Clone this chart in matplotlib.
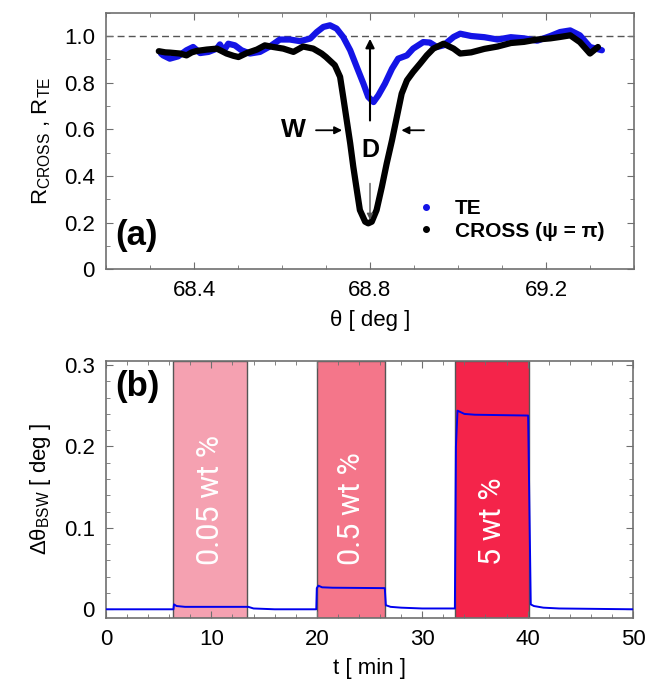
import matplotlib
matplotlib.use("Agg")
import matplotlib.pyplot as plt
from matplotlib.lines import Line2D
from matplotlib.ticker import MultipleLocator, FixedLocator

plt.rcParams['font.family'] = ['Liberation Sans', 'DejaVu Sans']
plt.rcParams['mathtext.fontset'] = 'custom'
plt.rcParams['mathtext.rm'] = 'Liberation Sans'
plt.rcParams['mathtext.it'] = 'Liberation Sans:italic'
plt.rcParams['mathtext.bf'] = 'Liberation Sans:bold'

# (a) reflectance dips vs incidence angle
theta_cross = [68.32, 68.335, 68.345, 68.368, 68.383, 68.395, 68.406, 68.429, 68.452,
               68.474, 68.49, 68.501, 68.52, 68.543, 68.561, 68.58, 68.603, 68.626,
               68.648, 68.671, 68.69, 68.70, 68.72, 68.732, 68.739, 68.747, 68.755,
               68.762, 68.77, 68.777, 68.789, 68.796, 68.804, 68.815, 68.827, 68.838,
               68.85, 68.861, 68.872, 68.884, 68.898, 68.914, 68.929, 68.944, 68.967,
               68.99, 69.005, 69.03, 69.06, 69.09, 69.12, 69.15, 69.18, 69.21, 69.232,
               69.255, 69.277, 69.3, 69.318]
r_cross = [0.935, 0.93, 0.929, 0.925, 0.917, 0.93, 0.936, 0.942, 0.946,
           0.925, 0.915, 0.91, 0.927, 0.942, 0.96, 0.953, 0.946, 0.932,
           0.955, 0.946, 0.925, 0.91, 0.875, 0.825, 0.74, 0.64, 0.54,
           0.44, 0.34, 0.254, 0.204, 0.197, 0.204, 0.254, 0.354, 0.454,
           0.553, 0.653, 0.753, 0.81, 0.846, 0.882, 0.917, 0.946, 0.967,
           0.946, 0.925, 0.93, 0.945, 0.955, 0.97, 0.975, 0.985, 0.99, 0.996,
           1.003, 0.974, 0.925, 0.953]

theta_te = [68.325, 68.33, 68.345, 68.364, 68.383, 68.398, 68.414, 68.433, 68.452,
            68.459, 68.467, 68.478, 68.493, 68.508, 68.527, 68.55, 68.573, 68.595,
            68.618, 68.641, 68.664, 68.679, 68.694, 68.709, 68.724, 68.739, 68.755,
            68.77, 68.785, 68.796, 68.808, 68.819, 68.834, 68.85, 68.864, 68.884,
            68.898, 68.921, 68.936, 68.952, 68.967, 68.99, 69.005, 69.03, 69.06,
            69.09, 69.12, 69.15, 69.18, 69.21, 69.232, 69.255, 69.277, 69.3, 69.327]
r_te = [0.925, 0.917, 0.903, 0.913, 0.939, 0.953, 0.927, 0.932, 0.946,
        0.964, 0.936, 0.967, 0.96, 0.939, 0.925, 0.932, 0.956, 0.985,
        0.985, 0.978, 0.989, 1.017, 1.039, 1.046, 1.032, 0.996, 0.939,
        0.867, 0.796, 0.739, 0.717, 0.746, 0.796, 0.86, 0.903, 0.917,
        0.946, 0.974, 0.972, 0.953, 0.96, 0.996, 1.01, 1.0, 0.995,
        0.985, 0.995, 0.99, 0.98, 1.0, 1.017, 1.024, 1.003, 0.953, 0.939]

# (b) BSW angle shift vs time, with analyte injection windows
t_min = [0, 6.4, 6.45, 6.7, 7.5, 13.35, 13.5, 14, 16, 19.95, 20.0, 20.15, 20.5, 21.5,
         26.45, 26.55, 27, 28, 30, 33.1, 33.2, 33.35, 34, 35, 40.05, 40.3, 40.6, 41.5,
         43, 50]
d_theta = [0, 0, 0.006, 0.004, 0.003, 0.003, 0.003, 0.001, 0, 0, 0.026, 0.029, 0.027,
           0.0265, 0.026, 0.005, 0.003, 0.002, 0.001, 0.001, 0.2, 0.244, 0.24, 0.239,
           0.238, 0.006, 0.004, 0.002, 0.001, 0]

band_start = [6.4, 20.0, 33.15]
band_end = [13.4, 26.5, 40.1]
band_labels = ['0.05 wt %', '0.5 wt %', '5 wt %']
band_colors = ['#F5A1B1', '#F4768A', '#F4244A']

fig = plt.figure(figsize=(6.46, 6.84), dpi=100)
ax1 = fig.add_axes([106 / 646, 1 - 269.3 / 684, 528 / 646, 256.6 / 684])
ax2 = fig.add_axes([106 / 646, 1 - 618 / 684, 527 / 646, 257 / 684])

spine_col = '#6f6f6f'
fs = 16

for ax in (ax1, ax2):
    for s in ax.spines.values():
        s.set_color(spine_col)
        s.set_linewidth(1.2)
    ax.tick_params(which='both', direction='in', top=True, right=True,
                   color=spine_col, labelsize=fs, pad=8)
    ax.tick_params(which='major', length=5)
    ax.tick_params(which='minor', length=3)

# ---- panel (a)
ax1.axhline(1.0, ls='--', color='#555555', lw=1.0, dashes=(5, 3), zorder=1)
ax1.plot(theta_te, r_te, color='#1414E6', lw=4.5, solid_capstyle='round', zorder=3)
ax1.plot(theta_cross, r_cross, color='black', lw=4.5, solid_capstyle='round', zorder=4)

ax1.set_xlim(68.2, 69.4)
ax1.set_ylim(0, 1.1)
ax1.xaxis.set_major_locator(FixedLocator([68.4, 68.8, 69.2]))
ax1.xaxis.set_minor_locator(MultipleLocator(0.1))
ax1.set_yticks([0, 0.2, 0.4, 0.6, 0.8, 1.0])
ax1.set_yticklabels(['0', '0.2', '0.4', '0.6', '0.8', '1.0'])
ax1.yaxis.set_minor_locator(MultipleLocator(0.1))
ax1.set_xlabel('θ [ deg ]', fontsize=fs, labelpad=6)
ax1.set_ylabel(r'R$_{\mathrm{CROSS}}$ , R$_{\mathrm{TE}}$', fontsize=fs, labelpad=8)

# depth arrows
ax1.annotate('', xy=(68.8, 1.0), xytext=(68.8, 0.626),
             arrowprops=dict(arrowstyle='-|>', color='black', lw=1.5, mutation_scale=13),
             zorder=6)
ax1.annotate('', xy=(68.8, 0.2), xytext=(68.8, 0.38),
             arrowprops=dict(arrowstyle='-|>', color='#555555', lw=1.0, mutation_scale=9),
             zorder=6)
ax1.text(68.8, 0.51, 'D', fontsize=18, fontweight='bold', ha='center', va='center')

# width arrows
ax1.annotate('', xy=(68.743, 0.596), xytext=(68.671, 0.596),
             arrowprops=dict(arrowstyle='-|>', color='black', lw=1.3, mutation_scale=11))
ax1.annotate('', xy=(68.865, 0.596), xytext=(68.929, 0.596),
             arrowprops=dict(arrowstyle='-|>', color='black', lw=1.3, mutation_scale=11))
ax1.text(68.626, 0.596, 'W', fontsize=19, fontweight='bold', ha='center', va='center')

ax1.text(0.017, 0.13, '(a)', transform=ax1.transAxes, fontsize=25,
         fontweight='bold', ha='left', va='center')

handles = [Line2D([], [], ls='none', marker='o', ms=4, color='#1414E6'),
           Line2D([], [], ls='none', marker='o', ms=4, color='black')]
ax1.legend(handles, ['TE', 'CROSS (ψ = π)'], loc='center left',
           bbox_to_anchor=(0.586, 0.192), frameon=False, handlelength=1.0,
           handletextpad=0.9, borderpad=0, borderaxespad=0, labelspacing=0.15,
           prop={'size': 15, 'weight': 'bold'})

# ---- panel (b)
for x0, x1, lab, col in zip(band_start, band_end, band_labels, band_colors):
    ax2.axvspan(x0, x1, facecolor=col, edgecolor='#555555', lw=1.0, zorder=1)
    ax2.text((x0 + x1) / 2, 0.054, lab, rotation=90, ha='center', va='bottom',
             color='white', fontsize=22, family=['Roboto', 'DejaVu Sans'], zorder=3)

ax2.plot(t_min, d_theta, color='#0000EE', lw=1.4, zorder=4)

ax2.set_xlim(0, 50)
ax2.set_ylim(-0.0107, 0.305)
ax2.xaxis.set_major_locator(MultipleLocator(10))
ax2.xaxis.set_minor_locator(MultipleLocator(2))
ax2.set_yticks([0, 0.1, 0.2, 0.3])
ax2.set_yticklabels(['0', '0.1', '0.2', '0.3'])
ax2.yaxis.set_minor_locator(MultipleLocator(0.02))
ax2.set_xlabel('t [ min ]', fontsize=fs, labelpad=6)
ax2.set_ylabel(r'Δθ$_{\mathrm{BSW}}$ [ deg ]', fontsize=fs, labelpad=8)

ax2.text(0.017, 0.9, '(b)', transform=ax2.transAxes, fontsize=25,
         fontweight='bold', ha='left', va='center')

fig.savefig('out.png', dpi=100)
